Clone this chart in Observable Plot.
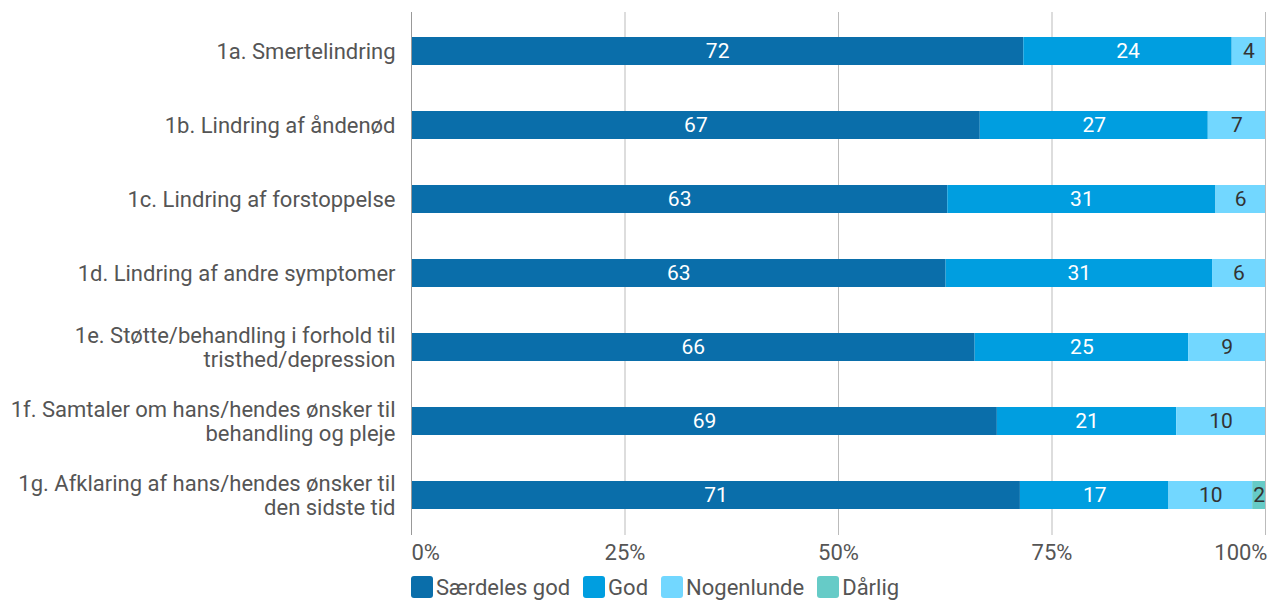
<!DOCTYPE html>
<html>
<head>
<meta charset="utf-8">
<script src="https://cdn.jsdelivr.net/npm/d3@7"></script>
<script src="https://cdn.jsdelivr.net/npm/@observablehq/plot@0.6"></script>
<style>
  html, body { margin: 0; padding: 0; background: #fff; }
  body { font-family: Roboto, sans-serif; width: 1284px; height: 602px; overflow: hidden; }
  #legend { display: flex; align-items: center; margin-left: 411px; margin-top: 0px; height: 30px; font-size: 22px; color: #555; }
  .item { display: flex; align-items: center; margin-right: 13px; }
  .sw { width: 22px; height: 22px; border-radius: 3px; margin-right: 3px; }
</style>
</head>
<body>
<div id="chart"></div>
<div id="legend"></div>
<script>
const categories = [
  "1a. Smertelindring",
  "1b. Lindring af åndenød",
  "1c. Lindring af forstoppelse",
  "1d. Lindring af andre symptomer",
  "1e. Støtte/behandling i forhold til\ntristhed/depression",
  "1f. Samtaler om hans/hendes ønsker til\nbehandling og pleje",
  "1g. Afklaring af hans/hendes ønsker til\nden sidste tid"
];
const seriesNames = ["Særdeles god", "God", "Nogenlunde", "Dårlig"];
const seriesColors = ["#0a6eaa", "#009ee0", "#72d7ff", "#66cbc7"];
const labelColors = ["#ffffff", "#ffffff", "#333333", "#333333"];
const saerdelesGod = [71.7, 66.6, 62.8, 62.6, 66.0, 68.6, 71.3];
const god = [24.4, 26.7, 31.4, 31.2, 25.0, 21.0, 17.4];
const nogenlunde = [3.9, 6.7, 5.8, 6.2, 9.0, 10.4, 9.8];
const daarlig = [0, 0, 0, 0, 0, 0, 1.5];
const xTicks = [0, 0.25, 0.5, 0.75, 1];

const seriesValues = [saerdelesGod, god, nogenlunde, daarlig];
const data = [];
categories.forEach((c, i) => {
  seriesValues.forEach((vals, s) => {
    data.push({category: c, series: seriesNames[s], value: vals[i] / 100, label: Math.round(vals[i]), si: s});
  });
});
const nonzero = data.filter(d => d.value > 0);
const stackOpts = {x: "value", y: "category", order: null};
const pct = d => Math.round(d * 100) + "%";
const FS = 22;

const chart = Plot.plot({
  width: 1284,
  height: 572,
  marginLeft: 411,
  marginRight: 19,
  marginTop: 12,
  marginBottom: 37,
  style: {fontFamily: "Roboto, sans-serif", background: "#fff"},
  x: {domain: [0, 1]},
  y: {domain: categories, paddingInner: 0.62, paddingOuter: 0.31},
  color: {domain: seriesNames, range: seriesColors},
  marks: [
    Plot.ruleX(xTicks, {stroke: "#bbb", strokeWidth: 1}),
    Plot.barX(nonzero, Plot.stackX({...stackOpts, fill: "series"})),
    Plot.ruleX([0], {stroke: "#999", strokeWidth: 1}),
    Plot.textX(data, Plot.stackX({...stackOpts, text: d => d.value > 0 ? String(d.label) : "", fill: d => labelColors[d.si], fontSize: 21})),
    Plot.axisY({tickSize: 0, tickPadding: 16, fontSize: FS, lineHeight: 1.09, fill: "#555", label: null}),
    Plot.axisX({ticks: [0.25, 0.5, 0.75], tickFormat: pct, tickSize: 0, tickPadding: 9, fontSize: FS, fill: "#555", label: null}),
    Plot.axisX({ticks: [0], tickFormat: pct, tickSize: 0, tickPadding: 9, fontSize: FS, fill: "#555", textAnchor: "start", label: null}),
    Plot.axisX({ticks: [1], tickFormat: pct, tickSize: 0, tickPadding: 9, fontSize: FS, fill: "#555", textAnchor: "end", dx: 2, label: null})
  ]
});
document.getElementById("chart").appendChild(chart);

const legend = document.getElementById("legend");
seriesNames.forEach((n, i) => {
  const it = document.createElement("div");
  it.className = "item";
  const sw = document.createElement("div");
  sw.className = "sw";
  sw.style.background = seriesColors[i];
  const t = document.createElement("span");
  t.textContent = n;
  it.appendChild(sw);
  it.appendChild(t);
  legend.appendChild(it);
});
</script>
</body>
</html>
